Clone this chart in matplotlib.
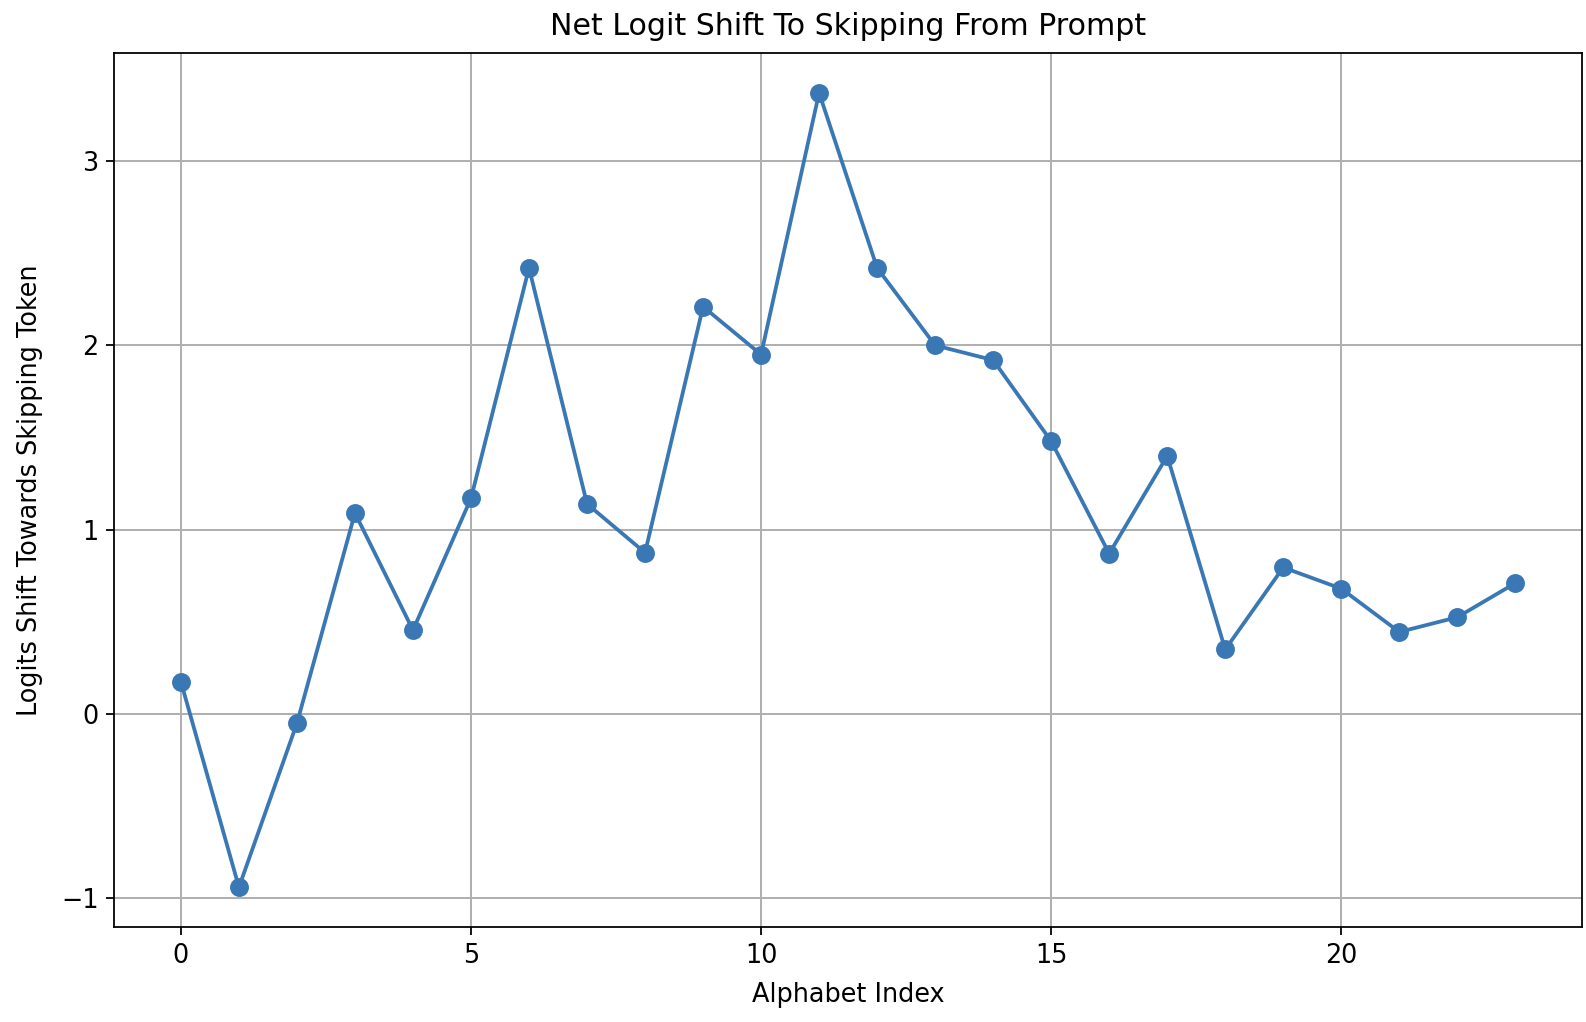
import matplotlib
matplotlib.use("Agg")
import matplotlib.pyplot as plt

# values
alphabet_index = list(range(24))
logit_shift = [0.175, -0.94, -0.05, 1.09, 0.455, 1.17, 2.42, 1.14, 0.875, 2.21,
               1.95, 3.37, 2.42, 2.0, 1.92, 1.48, 0.87, 1.40, 0.35, 0.795,
               0.68, 0.445, 0.525, 0.71]

fig = plt.figure(figsize=(1586 / 160, 1022 / 160), dpi=160)
ax = fig.add_axes([0.072, 0.093, 0.9255, 0.855])

ax.plot(alphabet_index, logit_shift, marker="o", color="#3a78b5",
        linewidth=1.7, markersize=7.5)

ax.set_title("Net Logit Shift To Skipping From Prompt", fontsize=13.5, pad=8)
ax.set_xlabel("Alphabet Index", fontsize=11.5, labelpad=6)
ax.set_ylabel("Logits Shift Towards Skipping Token", fontsize=11.5, labelpad=8)
ax.tick_params(labelsize=11.5)
ax.set_xticks([0, 5, 10, 15, 20])
ax.set_yticks([-1, 0, 1, 2, 3])
ax.grid(True, color="#b0b0b0", linewidth=0.9)

fig.savefig("out.png", dpi=160)
